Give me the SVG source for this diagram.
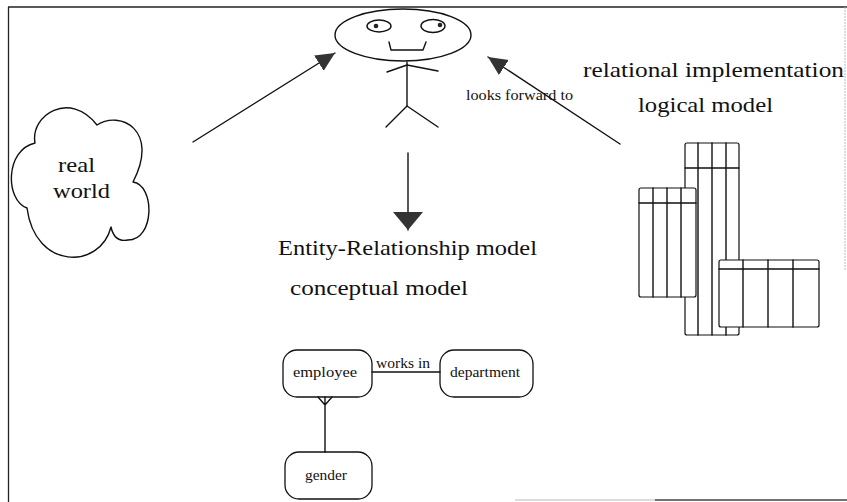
<svg xmlns="http://www.w3.org/2000/svg" width="847" height="502" viewBox="0 0 847 502">
  <style>
    .ln { fill: none; stroke: #111; stroke-width: 1.4; stroke-linecap: round; stroke-linejoin: round; }
    .box { fill: #fff; stroke: #111; stroke-width: 1.3; }
    .tbl { fill: #fff; stroke: #111; stroke-width: 1.2; }
    .big { font-family: "Liberation Serif", "DejaVu Serif", serif; font-size: 22px; fill: #111; }
    .sm { font-family: "Liberation Serif", "DejaVu Serif", serif; font-size: 15px; fill: #111; }
  </style>
  <defs>
    <marker id="head" markerUnits="userSpaceOnUse" viewBox="0 0 20 20" markerWidth="20" markerHeight="20" refX="19" refY="10" orient="auto">
      <path d="M0,1 L19,10 L0,19 Z" fill="#333"/>
    </marker>
    <marker id="headWide" markerUnits="userSpaceOnUse" viewBox="0 0 19 30" markerWidth="19" markerHeight="30" refX="18" refY="15" orient="auto">
      <path d="M0,0 L18,15 L0,30 Z" fill="#333"/>
    </marker>
  </defs>

  <rect width="847" height="502" fill="#fff"/>

  <!-- page frame -->
  <g id="frame">
    <line x1="8" y1="7" x2="847" y2="7" stroke="#222" stroke-width="1.3"/>
    <line x1="8.5" y1="7" x2="8.5" y2="502" stroke="#222" stroke-width="1.3"/>
    <line x1="845" y1="7" x2="845" y2="270" stroke="#bbb" stroke-width="1" stroke-dasharray="2 1"/>
    <line x1="515" y1="500" x2="655" y2="500" stroke="#bbb" stroke-width="1.2"/>
    <line x1="655" y1="500" x2="847" y2="500" stroke="#444" stroke-width="1.3"/>
  </g>

  <!-- stick figure with oval face -->
  <g id="person">
    <ellipse class="ln" cx="403" cy="35" rx="68" ry="26"/>
    <ellipse class="ln" cx="379" cy="26" rx="12" ry="6"/>
    <ellipse class="ln" cx="433" cy="26" rx="12" ry="6.5"/>
    <circle cx="376" cy="26" r="2.3" fill="#222"/>
    <circle cx="440" cy="25" r="2.3" fill="#222"/>
    <path class="ln" d="M389,42 L391,50 L423,50 L426,42"/>
    <path class="ln" d="M407,62 L407,106"/>
    <path class="ln" d="M387,72 L407,65 L438,71"/>
    <path class="ln" d="M386,127 L407,106 L438,127"/>
  </g>

  <!-- cloud -->
  <g id="real-world">
    <path class="ln" d="M35,143 C30,115 70,90 97,125 C120,110 160,130 133,182 C155,185 155,240 128,240 C118,242 113,236 111,227 C100,270 35,270 27,208 C5,200 5,150 35,143 Z"/>
    <text class="big" x="58" y="172" textLength="37" lengthAdjust="spacingAndGlyphs">real</text>
    <text class="big" x="53" y="198" textLength="57" lengthAdjust="spacingAndGlyphs">world</text>
  </g>

  <!-- relational tables -->
  <g id="relational-model">
    <text class="big" x="583" y="77" textLength="261" lengthAdjust="spacingAndGlyphs">relational implementation</text>
    <text class="big" x="638" y="112" textLength="135" lengthAdjust="spacingAndGlyphs">logical model</text>
    <g id="table-tall">
      <rect class="tbl" x="685" y="143" width="54" height="192" rx="2"/>
      <path class="ln" d="M698,143 V335 M712,143 V335 M726,143 V335 M685,168 H739"/>
    </g>
    <g id="table-left">
      <rect class="tbl" x="639" y="188" width="57" height="109" rx="2"/>
      <path class="ln" d="M653,188 V297 M667,188 V297 M681,188 V297 M639,203 H696"/>
    </g>
    <g id="table-right">
      <rect class="tbl" x="719" y="260" width="100" height="67" rx="2"/>
      <path class="ln" d="M743,260 V327 M768,260 V327 M793,260 V327 M719,269 H819"/>
    </g>
  </g>

  <!-- ER model -->
  <g id="er-model">
    <text class="big" x="278" y="255" textLength="259" lengthAdjust="spacingAndGlyphs">Entity-Relationship model</text>
    <text class="big" x="290" y="295" textLength="178" lengthAdjust="spacingAndGlyphs">conceptual model</text>
  </g>
  <g id="employee">
    <rect class="box" x="283" y="350" width="89" height="47" rx="14"/>
    <text class="sm" x="293" y="377" textLength="64" lengthAdjust="spacingAndGlyphs">employee</text>
  </g>
  <g id="department">
    <rect class="box" x="440" y="350" width="93" height="47" rx="14"/>
    <text class="sm" x="450" y="377" textLength="70" lengthAdjust="spacingAndGlyphs">department</text>
  </g>
  <g id="gender">
    <rect class="box" x="285" y="452" width="87" height="47" rx="14"/>
    <text class="sm" x="305" y="480" textLength="42" lengthAdjust="spacingAndGlyphs">gender</text>
  </g>

  <!-- connectors -->
  <g id="connectors">
    <line class="ln" x1="193" y1="142" x2="335" y2="53" marker-end="url(#head)"/>
    <line class="ln" x1="620" y1="144" x2="488" y2="57" marker-end="url(#head)"/>
    <text class="sm" x="466" y="100" textLength="107" lengthAdjust="spacingAndGlyphs">looks forward to</text>
    <line class="ln" x1="408" y1="153" x2="408" y2="230" marker-end="url(#headWide)"/>
    <line class="ln" x1="372" y1="372" x2="440" y2="372"/>
    <text class="sm" x="376" y="368" textLength="54" lengthAdjust="spacingAndGlyphs">works in</text>
    <path class="ln" d="M325,397 V452 M318,397 L325,405 L332,397"/>
  </g>
</svg>
